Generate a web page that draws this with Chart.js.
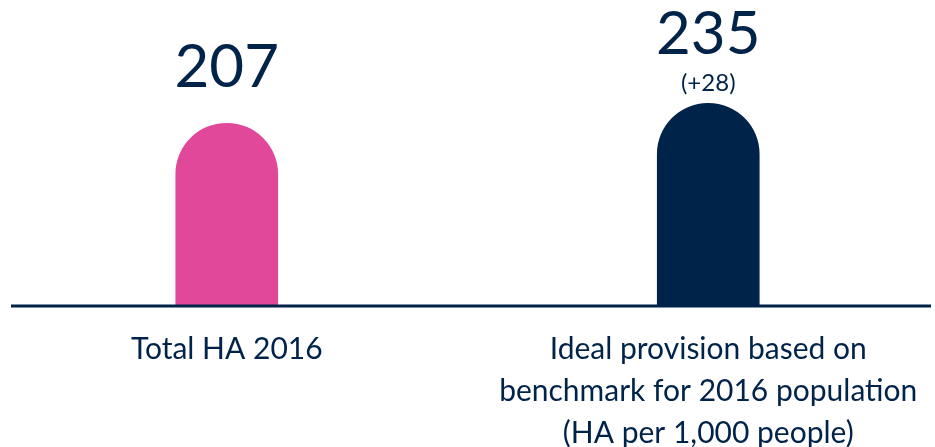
<!DOCTYPE html>
<html>
<head>
<meta charset="utf-8">
<script src="https://cdn.jsdelivr.net/npm/chart.js@4"></script>
<style>
  html, body { margin: 0; padding: 0; background: #fff; overflow: hidden; }
  #wrap { position: absolute; left: -14px; top: 0; width: 963px; height: 447px; }
</style>
</head>
<body>
<div id="wrap"><canvas id="chart"></canvas></div>
<script>
// data
const categories = [
  'Total HA 2016',
  ['Ideal provision based on', 'benchmark for 2016 population', '(HA per 1,000 people)']
];
const values = [207, 235];
const notes = ['', '(+28)'];
const barColors = ['#e2489a', '#002349'];

const navy = '#002349';
const fontFamily = 'Lato, "Open Sans", sans-serif';
const axisMin = -48;

// numbers above the bars
const valueLabels = {
  id: 'valueLabels',
  afterDatasetsDraw(chart) {
    const ctx = chart.ctx;
    const bars = chart.getDatasetMeta(0).data;
    ctx.save();
    ctx.fillStyle = navy;
    ctx.textAlign = 'center';
    ctx.textBaseline = 'alphabetic';
    bars.forEach((bar, i) => {
      const note = notes[i];
      if (note) {
        ctx.font = '24px ' + fontFamily;
        ctx.fillText(note, bar.x, bar.y - 12);
      }
      ctx.font = '60px ' + fontFamily;
      ctx.fillText(String(values[i]), bar.x, bar.y - (note ? 49 : 36));
    });
    ctx.restore();
  }
};

// horizontal base line
const baseLine = {
  id: 'baseLine',
  afterDatasetsDraw(chart) {
    const ctx = chart.ctx;
    const area = chart.chartArea;
    const y = chart.scales.y.getPixelForValue(axisMin);
    ctx.save();
    ctx.strokeStyle = navy;
    ctx.lineWidth = 3;
    ctx.beginPath();
    ctx.moveTo(area.left + 25, y + 1);
    ctx.lineTo(area.right - 18, y + 1);
    ctx.stroke();
    ctx.restore();
  }
};

new Chart(document.getElementById('chart'), {
  type: 'bar',
  data: {
    labels: categories,
    datasets: [{
      data: values,
      base: axisMin,
      backgroundColor: barColors,
      barThickness: 102,
      borderRadius: { topLeft: 60, topRight: 60, bottomLeft: 0, bottomRight: 0 },
      borderSkipped: 'start'
    }]
  },
  options: {
    responsive: true,
    maintainAspectRatio: false,
    animation: false,
    layout: { padding: { top: 0, bottom: -30, left: 0, right: 0 } },
    plugins: {
      legend: { display: false },
      tooltip: { enabled: false }
    },
    scales: {
      x: {
        grid: { display: false, drawTicks: false },
        border: { display: false },
        ticks: {
          color: navy,
          padding: 23,
          maxRotation: 0,
          autoSkip: false,
          font: { family: fontFamily, size: 30, lineHeight: 1.4 }
        }
      },
      y: {
        display: false,
        min: axisMin,
        max: 380
      }
    }
  },
  plugins: [valueLabels, baseLine]
});
</script>
</body>
</html>
